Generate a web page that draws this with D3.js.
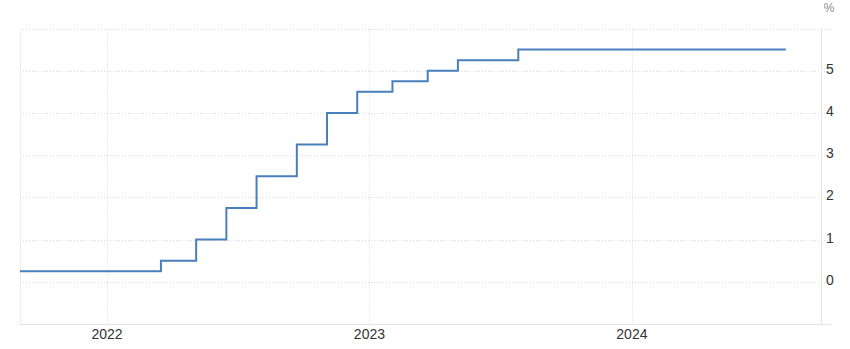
<!DOCTYPE html>
<html>
<head>
<meta charset="utf-8">
<script src="https://cdn.jsdelivr.net/npm/d3@7"></script>
<style>
  html, body { margin: 0; padding: 0; background: #fff; }
  text { font-family: Arial, "Liberation Sans", sans-serif; }
</style>
</head>
<body>
<div id="chart"></div>
<script>
// policy rate (upper bound), effective the day after each meeting
const dates = [
  "2021-07-29", "2021-09-23", "2021-11-04", "2021-12-16",
  "2022-01-27", "2022-03-17", "2022-05-05", "2022-06-16",
  "2022-07-28", "2022-09-22", "2022-11-03", "2022-12-15",
  "2023-02-02", "2023-03-23", "2023-05-04", "2023-06-15",
  "2023-07-27", "2023-09-21", "2023-11-02", "2023-12-14",
  "2024-02-01", "2024-03-21", "2024-05-02", "2024-06-13",
  "2024-08-02"
];
const rates = [
  0.25, 0.25, 0.25, 0.25,
  0.25, 0.5, 1.0, 1.75,
  2.5, 3.25, 4.0, 4.5,
  4.75, 5.0, 5.25, 5.25,
  5.5, 5.5, 5.5, 5.5,
  5.5, 5.5, 5.5, 5.5,
  5.5
];
const yTicks = [0, 1, 2, 3, 4, 5];
const yGrid = [0, 1, 2, 3, 4, 5, 6];
const yearTicks = ["2022-01-01", "2023-01-01", "2024-01-01"];

const width = 850, height = 349;
const plotLeft = 20, plotRight = 821, plotTop = 28.5, plotBottom = 324;
const parse = d3.timeParse("%Y-%m-%d");

const data = dates.map((d, i) => ({ date: parse(d), value: rates[i] }));

const svg = d3.select("#chart").append("svg")
  .attr("width", width)
  .attr("height", height);

const x = d3.scaleTime()
  .domain([parse("2021-09-02"), parse("2024-09-20")])
  .range([plotLeft, plotRight]);

const y = d3.scaleLinear()
  .domain([-1, 6])
  .range([plotBottom, plotTop]);

// grid
svg.append("g")
  .selectAll("line")
  .data(yGrid)
  .join("line")
  .attr("x1", plotLeft)
  .attr("x2", 831)
  .attr("y1", (d) => Math.round(y(d)) + 0.5)
  .attr("y2", (d) => Math.round(y(d)) + 0.5)
  .attr("stroke", "#d9d9d9")
  .attr("stroke-dasharray", "1,2");

svg.append("g")
  .selectAll("line")
  .data(yearTicks.map(parse))
  .join("line")
  .attr("x1", (d) => Math.round(x(d)) + 0.5)
  .attr("x2", (d) => Math.round(x(d)) + 0.5)
  .attr("y1", plotTop)
  .attr("y2", plotBottom)
  .attr("stroke", "#d9d9d9")
  .attr("stroke-dasharray", "1,2");

// frame
svg.append("line")
  .attr("x1", plotLeft + 0.5).attr("x2", plotLeft + 0.5)
  .attr("y1", plotTop).attr("y2", plotBottom)
  .attr("stroke", "#ececec");
svg.append("line")
  .attr("x1", plotRight + 0.5).attr("x2", plotRight + 0.5)
  .attr("y1", plotTop).attr("y2", plotBottom)
  .attr("stroke", "#e3e3e3");
svg.append("line")
  .attr("x1", plotLeft).attr("x2", 831)
  .attr("y1", Math.round(plotBottom) + 0.5).attr("y2", Math.round(plotBottom) + 0.5)
  .attr("stroke", "#e3e3e3");

// axes labels
svg.append("g")
  .selectAll("text")
  .data(yTicks)
  .join("text")
  .attr("x", 830)
  .attr("y", (d) => y(d) + 3)
  .attr("text-anchor", "middle")
  .attr("font-size", 14)
  .attr("fill", "#333")
  .text((d) => d);

svg.append("text")
  .attr("x", 829)
  .attr("y", 12)
  .attr("text-anchor", "middle")
  .attr("font-size", 12)
  .attr("fill", "#888")
  .text("%");

svg.append("g")
  .selectAll("text")
  .data(yearTicks.map(parse))
  .join("text")
  .attr("x", (d) => x(d))
  .attr("y", 339)
  .attr("text-anchor", "middle")
  .attr("font-size", 14)
  .attr("fill", "#333")
  .text((d) => d3.timeFormat("%Y")(d));

// line
svg.append("clipPath")
  .attr("id", "clip")
  .append("rect")
  .attr("x", plotLeft)
  .attr("y", 0)
  .attr("width", plotRight - plotLeft)
  .attr("height", height);

const line = d3.line()
  .curve(d3.curveStepAfter)
  .x((d) => x(d.date))
  .y((d) => y(d.value));

svg.append("path")
  .datum(data)
  .attr("clip-path", "url(#clip)")
  .attr("d", line)
  .attr("fill", "none")
  .attr("stroke", "#4a7fbd")
  .attr("stroke-width", 2);
</script>
</body>
</html>
